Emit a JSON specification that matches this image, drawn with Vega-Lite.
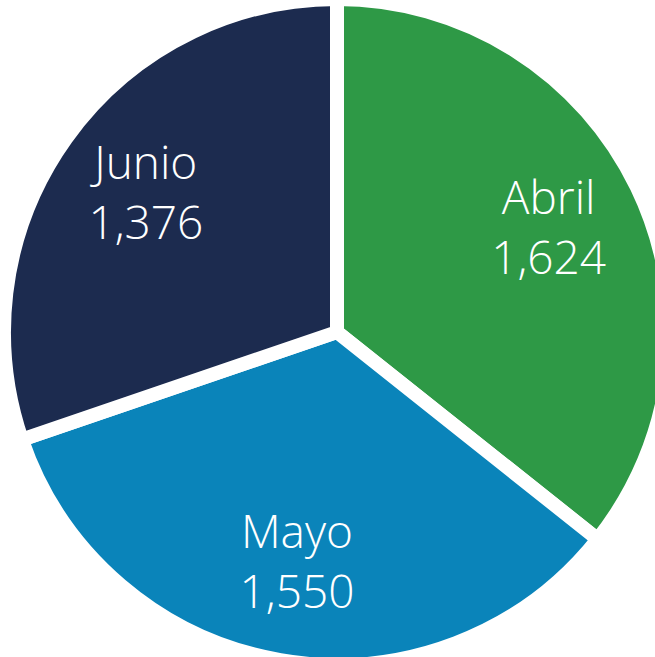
{
  "$schema": "https://vega.github.io/schema/vega-lite/v6.json",
  "width": 674,
  "height": 664,
  "padding": 0,
  "autosize": {"type": "none"},
  "background": "white",
  "config": {"view": {"stroke": null}},
  "data": {"values": [
    {"mes": "Abril", "valor": 1624, "n": 1},
    {"mes": "Mayo", "valor": 1550, "n": 2},
    {"mes": "Junio", "valor": 1376, "n": 3}
  ]},
  "encoding": {
    "theta": {"field": "valor", "type": "quantitative", "stack": true},
    "order": {"field": "n", "type": "quantitative"}
  },
  "layer": [
    {
      "mark": {"type": "arc", "outerRadius": 333, "stroke": "white", "strokeWidth": 14},
      "encoding": {
        "color": {"field": "mes", "type": "nominal", "legend": null,
          "scale": {"domain": ["Abril", "Mayo", "Junio"], "range": ["#2E9946", "#0A84BA", "#1C2B4F"]}}
      }
    },
    {
      "mark": {"type": "text", "radius": 235, "dy": -30, "fill": "white", "font": "Open Sans", "fontWeight": 300, "fontSize": 46, "align": "center", "baseline": "middle"},
      "encoding": {"text": {"field": "mes", "type": "nominal"}}
    },
    {
      "mark": {"type": "text", "radius": 235, "dy": 30, "fill": "white", "font": "Open Sans", "fontWeight": 300, "fontSize": 46, "align": "center", "baseline": "middle"},
      "encoding": {"text": {"field": "valor", "type": "quantitative", "format": ","}}
    }
  ]
}
